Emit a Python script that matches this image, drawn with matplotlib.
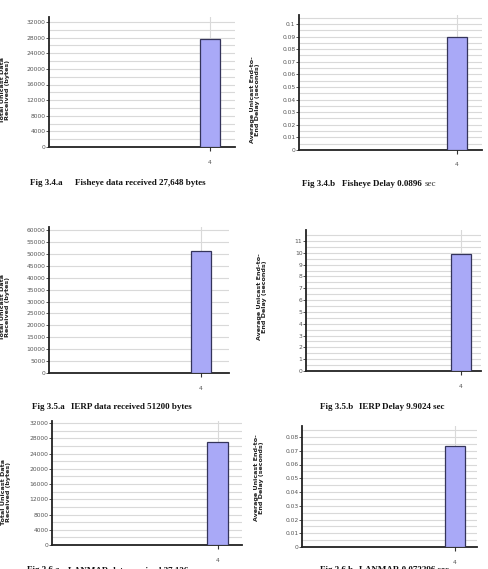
import numpy as np
import matplotlib
matplotlib.use("Agg")
import matplotlib.pyplot as plt
from matplotlib.ticker import MultipleLocator, FuncFormatter

W, H = 488, 569

# simulation results, one node count (4) per protocol
protocols = ["Fisheye", "IERP", "LANMAR"]
node_labels = ["4"]
data_received = [27648, 51200, 27136]      # bytes
avg_delay = [0.0896, 9.9024, 0.073296]     # seconds

captions = [
    ("Fig 3.4.a", "Fisheye data received 27,648 bytes"),
    ("Fig 3.4.b", "Fisheye Delay 0.0896"),
    ("Fig 3.5.a", "IERP data received 51200 bytes"),
    ("Fig 3.5.b", "IERP Delay 9.9024 sec"),
    ("Fig 3.6.a", "LANMAR data received 27,136"),
    ("Fig 3.6.b", "LANMAR 0.073296 sec"),
]
ylabel_data = "Total Unicast Data\nReceived (bytes)"
ylabel_delay = "Average Unicast End-to-\nEnd Delay (seconds)"

BAR = "#a9a9f7"
EDGE = "#34345a"
GRID = "#d9d9d9"

fig = plt.figure(figsize=(W / 100, H / 100), dpi=100)


def px_axes(left, top, right, bottom):
    return fig.add_axes([left / W, 1 - bottom / H, (right - left) / W, (bottom - top) / H])


def bar_panel(box, value, ymax, major, minor, bar_px):
    left, top, right, bottom = box
    ax = px_axes(*box)
    width = right - left
    c = (bar_px[0] + bar_px[1]) / 2 - left
    w = bar_px[1] - bar_px[0]
    ax.set_xlim(-c / w, (width - c) / w)
    ax.set_ylim(0, ymax)
    ax.bar([0], [value], width=1.0, color=BAR, edgecolor=EDGE, linewidth=0.9, zorder=3)

    ax.set_xticks([0])
    ax.set_xticklabels(node_labels)
    ax.yaxis.set_major_locator(MultipleLocator(major))
    ax.yaxis.set_minor_locator(MultipleLocator(minor))
    ax.yaxis.set_major_formatter(FuncFormatter(lambda v, p: f"{round(v, 6):g}"))
    ax.grid(axis="y", which="both", color=GRID, linewidth=0.8, zorder=0)
    ax.grid(axis="x", which="major", color=GRID, linewidth=0.8, zorder=0)
    ax.tick_params(axis="y", which="major", length=2, width=0.6, pad=0.5,
                   labelsize=4.3, labelcolor="#555555", color="#333333")
    ax.tick_params(axis="y", which="minor", length=0)
    ax.tick_params(axis="x", length=3, width=0.8, pad=6,
                   labelsize=4.3, labelcolor="#555555", color="#333333")
    for s in ("top", "right"):
        ax.spines[s].set_visible(False)
    for s in ("left", "bottom"):
        ax.spines[s].set_color("#222222")
        ax.spines[s].set_linewidth(1.3)
    ax.set_axisbelow(True)
    return ax


# row 1: Fisheye
bar_panel((49, 17, 235, 147), data_received[0], 33280, 4000, 2000, (200, 220))
bar_panel((299, 15, 482, 150), avg_delay[0], 0.1071, 0.01, 0.005, (447, 467))
# row 2: IERP
bar_panel((49, 227, 229, 373), data_received[1], 61259, 5000, 5000, (191, 211))
bar_panel((306, 230, 481, 371), avg_delay[1], 11.93, 1, 0.5, (451, 471))
# row 3: LANMAR
bar_panel((52, 421, 242, 545), data_received[2], 32525, 4000, 2000, (207, 228))
bar_panel((302, 426, 477, 547), avg_delay[2], 0.088, 0.01, 0.005, (445, 465))

# y labels, placed in pixels
ylabels = [
    (5, 90, ylabel_data), (255, 100, ylabel_delay),
    (5, 307, ylabel_data), (262, 297, ylabel_delay),
    (6, 492, ylabel_data), (259, 478, ylabel_delay),
]
for x, y, txt in ylabels:
    fig.text(x / W, 1 - y / H, txt, rotation=90, ha="center", va="center",
             fontsize=4.6, fontweight="bold", color="#222222", linespacing=1.1)

# captions under each chart: (fig no. x, text x, y) in pixels
cap_font = dict(family="Liberation Serif", fontweight="bold", fontsize=6.5, color="#111111")
cap_pos = [(30, 75, 183), (302, 342, 184), (32, 71, 407),
           (320, 359, 407), (27, 68, 570), (320, 359, 570)]
for (fig_no, text), (x0, x1, y) in zip(captions, cap_pos):
    fig.text(x0 / W, 1 - y / H, fig_no, ha="left", va="center", **cap_font)
    fig.text(x1 / W, 1 - y / H, text, ha="left", va="center", **cap_font)
fig.text(425 / W, 1 - 184 / H, "sec", ha="left", va="center",
         family="Liberation Serif", fontsize=6.5, color="#333333")

fig.savefig("out.png", dpi=100)
